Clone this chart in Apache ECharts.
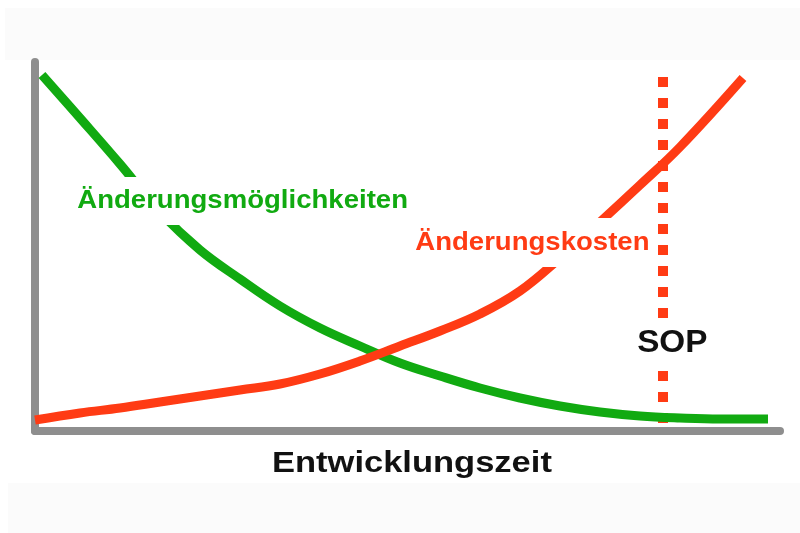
<!DOCTYPE html>
<html>
<head>
<meta charset="utf-8">
<script src="https://cdn.jsdelivr.net/npm/echarts@6/dist/echarts.min.js"></script>
<style>html,body{margin:0;padding:0;background:#fff}#c{width:800px;height:533px}</style>
</head>
<body>
<div id="c"></div>
<script>
// Time axis (0..745) and value axis (0..369)
const moeglichkeitenX = [7, 45, 85, 125, 165, 205, 245, 285, 325, 365, 405, 445, 485, 525, 565, 605, 645, 685, 733];
const moeglichkeitenY = [356, 313, 267, 219, 181, 152, 125, 103, 85, 68, 55, 43, 33, 25, 19, 15, 13, 12, 12];
const kostenX = [0, 45, 85, 125, 165, 205, 245, 285, 325, 365, 405, 445, 485, 525, 565, 605, 645, 708];
const kostenY = [11, 18, 23, 29, 35, 41, 47, 57, 70, 85, 100, 117, 140, 173, 209, 246, 284, 353];
const sopX = [628, 628];
const sopY = [354, 8];
const labels = {
  green: 'Änderungsmöglichkeiten',
  red: 'Änderungskosten',
  sop: 'SOP',
  axis: 'Entwicklungszeit'
};

const zip = (xs, ys) => xs.map((x, i) => [x, ys[i]]);
const GREEN = '#11aa11';
const RED = '#ff3b14';
const FONT = 'Liberation Sans, Arial, sans-serif';

const chart = echarts.init(document.getElementById('c'), null, {renderer: 'canvas'});
chart.setOption({
  animation: false,
  backgroundColor: '#ffffff',
  grid: {left: 35, right: 20, top: 62, bottom: 102},
  xAxis: {
    type: 'value', min: 0, max: 745,
    axisLine: {show: true, onZero: false, lineStyle: {color: '#8e8e8e', width: 8}},
    axisTick: {show: false}, axisLabel: {show: false}, splitLine: {show: false}
  },
  yAxis: {
    type: 'value', min: 0, max: 369,
    axisLine: {show: true, onZero: false, lineStyle: {color: '#8e8e8e', width: 8}},
    axisTick: {show: false}, axisLabel: {show: false}, splitLine: {show: false}
  },
  series: [
    {
      name: labels.green, type: 'line', data: zip(moeglichkeitenX, moeglichkeitenY),
      smooth: 0.4, showSymbol: false, clip: false, z: 3,
      lineStyle: {color: GREEN, width: 9, cap: 'butt'}
    },
    {
      name: labels.red, type: 'line', data: zip(kostenX, kostenY),
      smooth: 0.4, showSymbol: false, clip: false, z: 3,
      lineStyle: {color: RED, width: 9, cap: 'butt'}
    },
    {
      name: labels.sop, type: 'line', data: zip(sopX, sopY),
      showSymbol: false, clip: false, z: 2,
      lineStyle: {color: RED, width: 10, type: [10, 11], cap: 'butt'}
    }
  ],
  graphic: [
    {type: 'rect', z: -10, silent: true, shape: {x: 5, y: 8, width: 795, height: 52}, style: {fill: '#fbfbfb'}},
    {type: 'rect', z: -10, silent: true, shape: {x: 8, y: 483, width: 792, height: 50}, style: {fill: '#fbfbfb'}},
    {
      type: 'text', z: 100, x: 73, y: 201, scaleX: 1.06,
      style: {text: labels.green, x: 0, y: 0, fill: GREEN, font: 'bold 26px ' + FONT,
        align: 'left', verticalAlign: 'middle', lineHeight: 28,
        backgroundColor: '#ffffff', padding: [12, 4, 8, 4]}
    },
    {
      type: 'text', z: 100, x: 411, y: 242.5, scaleX: 1.06,
      style: {text: labels.red, x: 0, y: 0, fill: RED, font: 'bold 26px ' + FONT,
        align: 'left', verticalAlign: 'middle', lineHeight: 28,
        backgroundColor: '#ffffff', padding: [11, 4, 10, 4]}
    },
    {
      type: 'text', z: 100, x: 633, y: 343.5, scaleX: 1.04,
      style: {text: labels.sop, x: 0, y: 0, fill: '#111111', font: 'bold 32px ' + FONT,
        align: 'left', verticalAlign: 'middle', lineHeight: 34,
        backgroundColor: '#ffffff', padding: [10, 4, 7, 4]}
    },
    {
      type: 'text', z: 100, x: 272, y: 464, scaleX: 1.15,
      style: {text: labels.axis, x: 0, y: 0, fill: '#111111', font: 'bold 30px ' + FONT,
        align: 'left', verticalAlign: 'middle', lineHeight: 32}
    }
  ]
});
</script>
</body>
</html>
